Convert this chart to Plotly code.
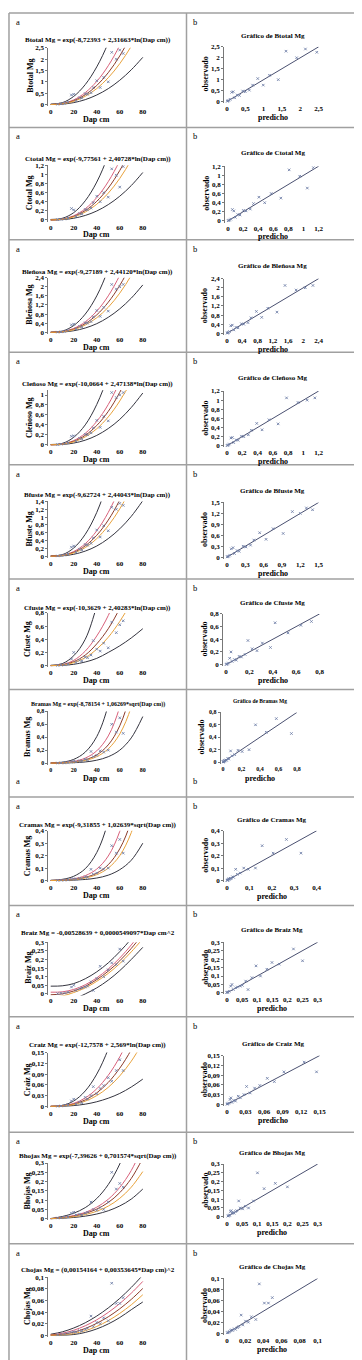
import plotly.graph_objects as go

W, H = 362, 1360

# ---------------- data ----------------
dap_cm = [6, 9, 12, 15, 18, 20, 22, 25, 27, 30, 32, 35, 37, 40, 43, 46, 50, 53, 57, 60, 63]
curve_dap = [0, 10, 20, 30, 40, 50, 60, 70, 80]

components = ["Btotal", "Ctotal", "Bleñosa", "Cleñoso", "Bfuste", "Cfuste",
              "Bramas", "Cramas", "Braiz", "Craiz", "Bhojas", "Chojas"]
equations = [
    "Btotal Mg = exp(-8,72393 + 2,31663*ln(Dap cm))",
    "Ctotal Mg = exp(-9,77561 + 2,40728*ln(Dap cm))",
    "Bleñosa Mg = exp(-9,27189 + 2,44120*ln(Dap cm))",
    "Cleñoso Mg = exp(-10,0664 + 2,47138*ln(Dap cm))",
    "Bfuste Mg = exp(-9,62724 + 2,44043*ln(Dap cm))",
    "Cfuste Mg = exp(-10,3629 + 2,40283*ln(Dap cm))",
    "Bramas Mg = exp(-8,78154 + 1,06269*sqrt(Dap cm))",
    "Cramas Mg = exp(-9,31855 + 1,02639*sqrt(Dap cm))",
    "Braiz Mg = -0,00528639 + 0,0000549097*Dap cm^2",
    "Craiz Mg = exp(-12,7578 + 2,569*ln(Dap cm))",
    "Bhojas Mg = exp(-7,39626 + 0,701574*sqrt(Dap cm))",
    "Chojas Mg = (0,00154164 + 0,00353645*Dap cm)^2",
]
left_ymax = [2.5, 1.2, 2.4, 1.1, 1.4, 0.8, 0.8, 0.4, 0.3, 0.15, 0.3, 0.1]
left_dtick = [0.5, 0.2, 0.4, 0.2, 0.2, 0.2, 0.2, 0.1, 0.05, 0.03, 0.05, 0.02]
right_max = [2.5, 1.2, 2.4, 1.2, 1.5, 0.8, 0.8, 0.4, 0.3, 0.15, 0.3, 0.1]
right_dtick = [0.5, 0.2, 0.4, 0.2, 0.3, 0.2, 0.2, 0.1, 0.05, 0.03, 0.05, 0.02]

btotal_pred = [0.010, 0.026, 0.051, 0.087, 0.13, 0.17, 0.21, 0.28, 0.34, 0.43, 0.50, 0.61, 0.70, 0.84, 0.99, 1.16, 1.40, 1.61, 1.90, 2.14, 2.45]
btotal_obs = [0.012, 0.03, 0.05, 0.10, 0.42, 0.45, 0.17, 0.30, 0.28, 0.48, 0.45, 0.52, 0.75, 1.05, 0.75, 1.20, 1.00, 2.30, 2.00, 2.40, 2.25]
btotal_fit = [0, 0.034, 0.168, 0.43, 0.837, 1.404, 2.142, 3.06, 4.17]
btotal_upi = [0.02, 0.08, 0.36, 0.88, 1.66, 2.72, 4.1, 6.0, 8.0]
btotal_lpi = [0, 0.017, 0.084, 0.215, 0.42, 0.70, 1.07, 1.53, 2.08]
btotal_uci = [0, 0.041, 0.205, 0.525, 1.02, 1.71, 2.61, 3.73, 5.1]
btotal_lci = [0, 0.028, 0.141, 0.361, 0.703, 1.18, 1.8, 2.57, 3.5]

ctotal_pred = [0.0041, 0.011, 0.022, 0.038, 0.059, 0.078, 0.097, 0.131, 0.16, 0.204, 0.24, 0.295, 0.339, 0.41, 0.486, 0.573, 0.70, 0.81, 0.95, 1.05, 1.13]
ctotal_obs = [0.005, 0.012, 0.02, 0.04, 0.25, 0.22, 0.08, 0.14, 0.13, 0.23, 0.22, 0.26, 0.38, 0.52, 0.40, 0.60, 0.50, 1.12, 0.98, 0.72, 1.17]
ctotal_fit = [0, 0.015, 0.077, 0.204, 0.408, 0.699, 1.084, 1.57, 2.165]
ctotal_upi = [0.01, 0.035, 0.16, 0.42, 0.83, 1.42, 2.2, 3.2, 4.4]
ctotal_lpi = [0, 0.007, 0.037, 0.098, 0.196, 0.336, 0.52, 0.754, 1.04]
ctotal_uci = [0, 0.018, 0.092, 0.245, 0.49, 0.84, 1.30, 1.88, 2.6]
ctotal_lci = [0, 0.013, 0.065, 0.172, 0.343, 0.587, 0.91, 1.32, 1.82]

blenosa_pred = [0.0072, 0.019, 0.038, 0.066, 0.10, 0.14, 0.18, 0.24, 0.29, 0.38, 0.44, 0.55, 0.63, 0.77, 0.91, 1.07, 1.31, 1.52, 1.81, 2.05, 2.25]
blenosa_obs = [0.009, 0.022, 0.04, 0.08, 0.33, 0.36, 0.15, 0.26, 0.24, 0.42, 0.40, 0.47, 0.68, 0.96, 0.70, 1.10, 0.93, 2.10, 1.90, 2.00, 2.10]
blenosa_fit = [0, 0.026, 0.141, 0.38, 0.766, 1.32, 2.06, 3.0, 4.16]
blenosa_upi = [0.01, 0.055, 0.3, 0.8, 1.6, 2.77, 4.3, 6.3, 8.7]
blenosa_lpi = [0, 0.013, 0.07, 0.19, 0.38, 0.66, 1.03, 1.5, 2.08]
blenosa_uci = [0, 0.032, 0.172, 0.46, 0.93, 1.6, 2.5, 3.6, 5.0]
blenosa_lci = [0, 0.022, 0.118, 0.32, 0.64, 1.1, 1.72, 2.5, 3.5]

clenoso_pred = [0.0035, 0.0093, 0.019, 0.032, 0.052, 0.071, 0.088, 0.12, 0.146, 0.19, 0.22, 0.28, 0.32, 0.39, 0.46, 0.55, 0.67, 0.78, 0.93, 1.05, 1.15]
clenoso_obs = [0.004, 0.011, 0.02, 0.038, 0.17, 0.18, 0.07, 0.13, 0.12, 0.21, 0.20, 0.24, 0.34, 0.49, 0.35, 0.57, 0.48, 1.05, 0.95, 1.0, 1.05]
clenoso_fit = [0, 0.0126, 0.07, 0.19, 0.387, 0.671, 1.054, 1.54, 2.145]
clenoso_upi = [0.005, 0.027, 0.15, 0.4, 0.81, 1.4, 2.2, 3.2, 4.5]
clenoso_lpi = [0, 0.006, 0.034, 0.092, 0.188, 0.326, 0.51, 0.75, 1.04]
clenoso_uci = [0, 0.015, 0.085, 0.23, 0.47, 0.81, 1.27, 1.86, 2.6]
clenoso_lci = [0, 0.0105, 0.058, 0.158, 0.322, 0.56, 0.88, 1.28, 1.78]

bfuste_pred = [0.0051, 0.0135, 0.027, 0.046, 0.071, 0.10, 0.123, 0.166, 0.20, 0.265, 0.31, 0.385, 0.44, 0.535, 0.64, 0.755, 0.92, 1.07, 1.2, 1.3, 1.4]
bfuste_obs = [0.006, 0.016, 0.027, 0.055, 0.23, 0.26, 0.10, 0.18, 0.16, 0.30, 0.28, 0.33, 0.47, 0.67, 0.49, 0.78, 0.65, 1.25, 1.20, 1.35, 1.30]
bfuste_fit = [0, 0.018, 0.099, 0.265, 0.535, 0.923, 1.44, 2.1, 2.9]
bfuste_upi = [0.008, 0.038, 0.21, 0.56, 1.12, 1.94, 3.0, 4.4, 6.1]
bfuste_lpi = [0, 0.009, 0.048, 0.13, 0.26, 0.45, 0.7, 1.02, 1.42]
bfuste_uci = [0, 0.022, 0.12, 0.32, 0.65, 1.12, 1.75, 2.55, 3.5]
bfuste_lci = [0, 0.015, 0.083, 0.22, 0.45, 0.78, 1.21, 1.76, 2.44]

cfuste_pred = [0.0023, 0.0061, 0.012, 0.021, 0.032, 0.043, 0.053, 0.072, 0.088, 0.113, 0.132, 0.164, 0.188, 0.224, 0.265, 0.311, 0.38, 0.42, 0.53, 0.64, 0.73]
cfuste_obs = [0.003, 0.007, 0.012, 0.025, 0.10, 0.20, 0.05, 0.08, 0.07, 0.13, 0.12, 0.16, 0.38, 0.25, 0.22, 0.34, 0.27, 0.66, 0.50, 0.62, 0.68]
cfuste_fit = [0, 0.012, 0.06, 0.16, 0.33, 0.56, 0.87, 1.25, 1.7]
cfuste_upi = [0.005, 0.03, 0.15, 0.4, 0.9, 1.5, 2.3, 3.3, 4.5]
cfuste_lpi = [0, 0.004, 0.02, 0.055, 0.11, 0.2, 0.3, 0.42, 0.56]
cfuste_uci = [0, 0.016, 0.08, 0.22, 0.45, 0.76, 1.18, 1.7, 2.3]
cfuste_lci = [0, 0.009, 0.045, 0.12, 0.25, 0.43, 0.67, 0.96, 1.3]

bramas_pred = [0.0021, 0.0037, 0.0061, 0.0094, 0.0139, 0.0178, 0.0224, 0.0312, 0.0384, 0.0518, 0.0627, 0.0825, 0.0985, 0.127, 0.163, 0.207, 0.282, 0.352, 0.468, 0.577, 0.74]
bramas_obs = [0.002, 0.004, 0.006, 0.01, 0.02, 0.03, 0.02, 0.035, 0.03, 0.06, 0.05, 0.18, 0.10, 0.12, 0.19, 0.17, 0.20, 0.60, 0.48, 0.70, 0.46]
bramas_fit = [0, 0.0044, 0.018, 0.052, 0.127, 0.282, 0.577, 1.12, 2.06]
bramas_upi = [0.003, 0.014, 0.058, 0.17, 0.41, 0.9, 1.85, 3.6, 6.6]
bramas_lpi = [0, 0.0015, 0.0062, 0.018, 0.045, 0.099, 0.2, 0.39, 0.72]
bramas_uci = [0, 0.0066, 0.027, 0.078, 0.19, 0.42, 0.87, 1.68, 3.1]
bramas_lci = [0, 0.0034, 0.014, 0.041, 0.1, 0.22, 0.45, 0.87, 1.6]

cramas_pred = [0.0011, 0.002, 0.0032, 0.0049, 0.0071, 0.0088, 0.011, 0.015, 0.0185, 0.0248, 0.0298, 0.039, 0.046, 0.059, 0.075, 0.095, 0.127, 0.157, 0.206, 0.265, 0.33]
cramas_obs = [0.001, 0.002, 0.003, 0.005, 0.01, 0.015, 0.01, 0.018, 0.015, 0.03, 0.025, 0.09, 0.05, 0.06, 0.10, 0.09, 0.10, 0.28, 0.22, 0.33, 0.22]
cramas_fit = [0, 0.0023, 0.0088, 0.025, 0.059, 0.127, 0.255, 0.48, 0.87]
cramas_upi = [0.002, 0.009, 0.034, 0.095, 0.225, 0.48, 0.97, 1.83, 3.3]
cramas_lpi = [0, 0.0008, 0.003, 0.0085, 0.02, 0.043, 0.087, 0.163, 0.3]
cramas_uci = [0, 0.0036, 0.0136, 0.039, 0.092, 0.197, 0.395, 0.74, 1.35]
cramas_lci = [0, 0.0018, 0.007, 0.02, 0.047, 0.1, 0.2, 0.385, 0.7]

braiz_pred = [0.0, 0.0, 0.0026, 0.0071, 0.0125, 0.0167, 0.0213, 0.029, 0.0347, 0.0441, 0.0509, 0.062, 0.0699, 0.0826, 0.0962, 0.1109, 0.132, 0.149, 0.173, 0.22, 0.25]
braiz_obs = [0.002, 0.004, 0.005, 0.01, 0.04, 0.05, 0.02, 0.03, 0.035, 0.04, 0.045, 0.07, 0.02, 0.09, 0.16, 0.10, 0.14, 0.18, 0.17, 0.26, 0.19]
braiz_fit = [-0.005, 0.0002, 0.017, 0.044, 0.083, 0.132, 0.192, 0.264, 0.346]
braiz_upi = [0.045, 0.047, 0.06, 0.088, 0.128, 0.18, 0.245, 0.32, 0.41]
braiz_lpi = [-0.06, -0.05, -0.03, 0.0, 0.035, 0.08, 0.135, 0.2, 0.27]
braiz_uci = [0.01, 0.012, 0.026, 0.053, 0.093, 0.145, 0.208, 0.284, 0.372]
braiz_lci = [-0.02, -0.012, 0.008, 0.035, 0.073, 0.119, 0.176, 0.244, 0.32]

craiz_pred = [0.0003, 0.0008, 0.0016, 0.0029, 0.0051, 0.0064, 0.0081, 0.0111, 0.0138, 0.0183, 0.0218, 0.0275, 0.0318, 0.0376, 0.0448, 0.0532, 0.0653, 0.0767, 0.0922, 0.125, 0.145]
craiz_obs = [0.0003, 0.001, 0.002, 0.004, 0.015, 0.02, 0.006, 0.012, 0.01, 0.025, 0.02, 0.03, 0.055, 0.035, 0.05, 0.058, 0.08, 0.07, 0.10, 0.13, 0.10]
craiz_fit = [0, 0.0011, 0.0063, 0.018, 0.0376, 0.0667, 0.1065, 0.158, 0.223]
craiz_upi = [0, 0.0026, 0.015, 0.043, 0.09, 0.16, 0.256, 0.38, 0.535]
craiz_lpi = [0, 0.0004, 0.0021, 0.0061, 0.0128, 0.0227, 0.036, 0.054, 0.076]
craiz_uci = [0, 0.0014, 0.0082, 0.0234, 0.049, 0.0867, 0.138, 0.205, 0.29]
craiz_lci = [0, 0.0009, 0.005, 0.0144, 0.03, 0.053, 0.085, 0.126, 0.178]

bhojas_pred = [0.0034, 0.005, 0.007, 0.0093, 0.012, 0.0141, 0.0165, 0.0205, 0.0235, 0.0286, 0.0325, 0.0389, 0.0438, 0.0519, 0.0611, 0.0715, 0.0876, 0.101, 0.123, 0.16, 0.2]
bhojas_obs = [0.004, 0.005, 0.008, 0.01, 0.03, 0.035, 0.02, 0.025, 0.02, 0.03, 0.035, 0.09, 0.05, 0.045, 0.06, 0.05, 0.09, 0.25, 0.16, 0.19, 0.17]
bhojas_fit = [0.0006, 0.0056, 0.0141, 0.0286, 0.052, 0.0876, 0.1406, 0.217, 0.326]
bhojas_upi = [0.0013, 0.012, 0.03, 0.06, 0.109, 0.184, 0.295, 0.456, 0.685]
bhojas_lpi = [0.0003, 0.0028, 0.0069, 0.014, 0.0255, 0.043, 0.069, 0.106, 0.16]
bhojas_uci = [0.0007, 0.0068, 0.017, 0.0343, 0.0624, 0.105, 0.169, 0.26, 0.39]
bhojas_lci = [0.0005, 0.0044, 0.011, 0.0223, 0.0405, 0.068, 0.11, 0.17, 0.254]

chojas_pred = [0.0005, 0.0011, 0.0019, 0.003, 0.0043, 0.0052, 0.0063, 0.0081, 0.0094, 0.0116, 0.0132, 0.0157, 0.0175, 0.0205, 0.0236, 0.027, 0.0318, 0.0357, 0.0413, 0.0457, 0.05]
chojas_obs = [0.0006, 0.001, 0.002, 0.003, 0.005, 0.006, 0.005, 0.008, 0.007, 0.01, 0.012, 0.033, 0.015, 0.022, 0.02, 0.03, 0.025, 0.09, 0.055, 0.055, 0.065]
chojas_fit = [0, 0.0014, 0.0052, 0.0116, 0.0205, 0.0318, 0.0457, 0.062, 0.0809]
chojas_upi = [0.0016, 0.0057, 0.0124, 0.0215, 0.0331, 0.0472, 0.0637, 0.0827, 0.104]
chojas_lpi = [0.0, 0.0, 0.0011, 0.0047, 0.0108, 0.0194, 0.0305, 0.0441, 0.0575]
chojas_uci = [0.0005, 0.0033, 0.0085, 0.0163, 0.0266, 0.0394, 0.0548, 0.0727, 0.0931]
chojas_lci = [0, 0.0003, 0.0028, 0.0077, 0.0151, 0.0251, 0.0377, 0.0526, 0.07]

preds = [btotal_pred, ctotal_pred, blenosa_pred, clenoso_pred, bfuste_pred, cfuste_pred,
         bramas_pred, cramas_pred, braiz_pred, craiz_pred, bhojas_pred, chojas_pred]
obss = [btotal_obs, ctotal_obs, blenosa_obs, clenoso_obs, bfuste_obs, cfuste_obs,
        bramas_obs, cramas_obs, braiz_obs, craiz_obs, bhojas_obs, chojas_obs]
curves = [
    (btotal_upi, btotal_lpi, btotal_uci, btotal_fit, btotal_lci),
    (ctotal_upi, ctotal_lpi, ctotal_uci, ctotal_fit, ctotal_lci),
    (blenosa_upi, blenosa_lpi, blenosa_uci, blenosa_fit, blenosa_lci),
    (clenoso_upi, clenoso_lpi, clenoso_uci, clenoso_fit, clenoso_lci),
    (bfuste_upi, bfuste_lpi, bfuste_uci, bfuste_fit, bfuste_lci),
    (cfuste_upi, cfuste_lpi, cfuste_uci, cfuste_fit, cfuste_lci),
    (bramas_upi, bramas_lpi, bramas_uci, bramas_fit, bramas_lci),
    (cramas_upi, cramas_lpi, cramas_uci, cramas_fit, cramas_lci),
    (braiz_upi, braiz_lpi, braiz_uci, braiz_fit, braiz_lci),
    (craiz_upi, craiz_lpi, craiz_uci, craiz_fit, craiz_lci),
    (bhojas_upi, bhojas_lpi, bhojas_uci, bhojas_fit, bhojas_lci),
    (chojas_upi, chojas_lpi, chojas_uci, chojas_fit, chojas_lci),
]

# ---------------- layout (pixel positions) ----------------
# (L title y, L top, L bottom, R title y, R top, R bottom, R x0, R x1)
row_px = [
    (28, 36, 93, 24, 35, 90, 222, 315),
    (148, 154, 209, 142, 155, 210, 223, 315),
    (261, 267, 322, 255, 268, 323, 222, 315),
    (374, 380, 435, 368, 381, 436, 222, 315),
    (486, 492, 547, 481, 493, 548, 222, 315),
    (599, 604, 657, 594, 605, 656, 221, 316),
    (696, 703, 755, 693, 704, 754, 218, 293),
    (817, 823, 873, 812, 823, 873, 222, 313),
    (926, 935, 987, 923, 935, 986, 222, 314),
    (1038, 1046, 1100, 1037, 1049, 1098, 222, 316),
    (1150, 1157, 1213, 1147, 1158, 1211, 222, 314),
    (1265, 1272, 1330, 1261, 1273, 1328, 222, 314),
]
borders = [1, 116, 229, 342, 455, 570, 681, 789, 898, 1010, 1126, 1238, 1357]

FONT = "Liberation Serif"
curve_colors = ["#34343f", "#34343f", "#d8607a", "#8c3b2a", "#e8a23c"]
PT = "#7080a8"

def fx(p):
    return p / W

def fy(p):
    return 1 - p / H

fig = go.Figure()
layout = {}
annotations = []

for i in range(12):
    lt, ltop, lbot, rt, rtop, rbot, rx0, rx1 = row_px[i]
    nl, nr = 2 * i + 1, 2 * i + 2
    xl = "x" if nl == 1 else f"x{nl}"
    yl = "y" if nl == 1 else f"y{nl}"
    xr, yr = f"x{nr}", f"y{nr}"
    small = (i == 6)

    # left panel
    for c, col in zip(curves[i], curve_colors):
        fig.add_trace(go.Scatter(x=curve_dap, y=c, mode="lines", xaxis=xl, yaxis=yl,
                                 line=dict(color=col, width=1, shape="spline", smoothing=1.0),
                                 showlegend=False, hoverinfo="skip"))
    fig.add_trace(go.Scatter(x=dap_cm, y=obss[i], mode="markers", xaxis=xl, yaxis=yl,
                             marker=dict(symbol="x-thin", size=2.5, line=dict(width=0.9, color=PT)),
                             showlegend=False))
    # right panel
    m = right_max[i]
    fig.add_trace(go.Scatter(x=[0, m], y=[0, m], mode="lines", xaxis=xr, yaxis=yr,
                             line=dict(color="#4a5070", width=1), showlegend=False))
    fig.add_trace(go.Scatter(x=preds[i], y=obss[i], mode="markers", xaxis=xr, yaxis=yr,
                             marker=dict(symbol="x-thin", size=2.5, line=dict(width=0.9, color=PT)),
                             showlegend=False))

    tf = dict(family=FONT, size=6 if small else 7, color="black", weight="bold")
    lm = left_ymax[i]
    lb = lbot + 0.03 * (lbot - ltop)
    layout[f"xaxis{nl if nl > 1 else ''}"] = dict(
        domain=[fx(41), fx(139)], anchor=yl, range=[-2, 82], dtick=20, tick0=0,
        showgrid=False, zeroline=False, showline=False, ticks="", tickfont=tf, ticklen=0)
    layout[f"yaxis{nl if nl > 1 else ''}"] = dict(
        domain=[fy(lb), fy(ltop)], anchor=xl, range=[-0.03 * lm, lm], dtick=left_dtick[i], tick0=0,
        showgrid=False, zeroline=False, showline=True, linecolor="#777", linewidth=1,
        ticks="outside", ticklen=2, tickcolor="#777", tickfont=tf)
    sc = (rx1 - rx0) / m
    rb = rbot + 0.03 * (rbot - rtop)
    layout[f"xaxis{nr}"] = dict(
        domain=[fx(rx0 - 0.03 * m * sc), fx(rx1 + 0.02 * m * sc)], anchor=yr,
        range=[-0.03 * m, 1.02 * m], dtick=right_dtick[i], tick0=0,
        showgrid=False, zeroline=False, showline=False, ticks="", tickfont=tf)
    layout[f"yaxis{nr}"] = dict(
        domain=[fy(rb), fy(rtop)], anchor=xr, range=[-0.03 * m, m], dtick=right_dtick[i], tick0=0,
        showgrid=False, zeroline=False, showline=True, linecolor="#777", linewidth=1,
        ticks="outside", ticklen=2, tickcolor="#777", tickfont=tf)

    tsize = 6 if small else 7
    ylab_x = 20 if lm < 1 or left_dtick[i] < 0.1 else 22
    annotations += [
        dict(text=equations[i], x=fx(91), y=fy(lt),
             font=dict(family=FONT, size=tsize, color="black", weight="bold")),
        dict(text=f"Gráfico de {components[i]} Mg", x=fx((rx0 + rx1) / 2), y=fy(rt),
             font=dict(family=FONT, size=5.5 if small else 7, color="black", weight="bold")),
        dict(text=f"{components[i]} Mg", x=fx(ylab_x), y=fy((ltop + lbot) / 2), textangle=-90,
             font=dict(family=FONT, size=8, color="black", weight="bold")),
        dict(text="Dap cm", x=fx(90), y=fy(lbot + 15),
             font=dict(family=FONT, size=8, color="black", weight="bold")),
        dict(text="observado", x=fx(rx0 - 22), y=fy((rtop + rbot) / 2), textangle=-90,
             font=dict(family=FONT, size=8, color="black", weight="bold")),
        dict(text="predicho", x=fx((rx0 + rx1) / 2), y=fy(rbot + 16),
             font=dict(family=FONT, size=8, color="black", weight="bold")),
    ]
    ly = 773 if small else borders[i] + 9
    annotations += [
        dict(text="a", x=fx(6), y=fy(ly), xanchor="left", font=dict(family=FONT, size=8.5, color="black")),
        dict(text="b", x=fx(186), y=fy(ly), xanchor="left", font=dict(family=FONT, size=8.5, color="black")),
    ]

for a in annotations:
    a.setdefault("xref", "paper")
    a.setdefault("yref", "paper")
    a.setdefault("showarrow", False)
    a.setdefault("xanchor", "center")
    a.setdefault("yanchor", "middle")

shapes = []
for b in borders:
    shapes.append(dict(type="line", xref="paper", yref="paper", x0=fx(1), x1=fx(360), y0=fy(b), y1=fy(b),
                       line=dict(color="#a0a0a0", width=1.5)))
for xv in [1, 181, 360]:
    shapes.append(dict(type="line", xref="paper", yref="paper", x0=fx(xv), x1=fx(xv),
                       y0=fy(borders[0]), y1=fy(borders[-1]), line=dict(color="#a0a0a0", width=1.5)))

fig.update_layout(
    width=W, height=H, margin=dict(l=0, r=0, t=0, b=0),
    paper_bgcolor="white", plot_bgcolor="white",
    separators=", ", showlegend=False,
    annotations=annotations, shapes=shapes,
    font=dict(family=FONT, color="black"),
    **layout,
)
fig.write_html("out.html")
